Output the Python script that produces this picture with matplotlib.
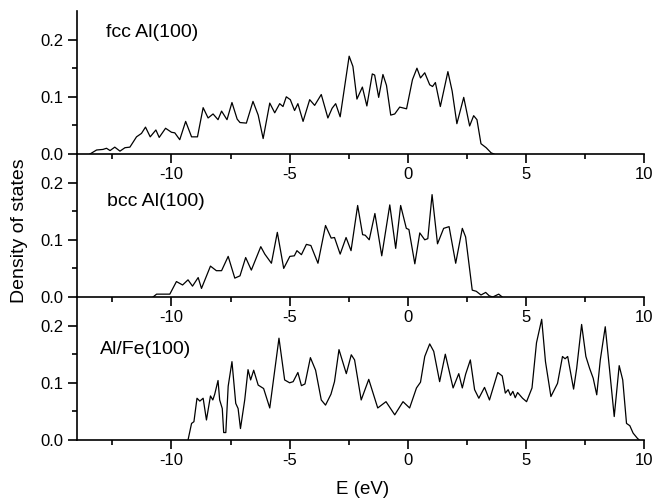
import matplotlib
matplotlib.use("Agg")
import matplotlib.pyplot as plt
from matplotlib.ticker import FixedLocator, FormatStrFormatter

plt.rcParams['font.family'] = ['Liberation Sans', 'DejaVu Sans']
plt.rcParams['axes.unicode_minus'] = False

# ---- data ----
e_fcc = [-13.45, -13.17, -12.9, -12.75, -12.6, -12.4, -12.18, -11.97, -11.76, -11.48,
         -11.27, -11.10, -10.90, -10.66, -10.52, -10.25, -10.00, -9.86, -9.65, -9.40,
         -9.15, -8.90, -8.66, -8.45, -8.24, -8.03, -7.88, -7.65, -7.44, -7.22,
         -7.10, -6.83, -6.55, -6.33, -6.12, -5.84, -5.63, -5.42, -5.28, -5.14,
         -4.97, -4.79, -4.65, -4.43, -4.15, -3.94, -3.66, -3.38, -3.20, -3.05,
         -2.86, -2.48, -2.32, -2.15, -1.92, -1.73, -1.50, -1.40, -1.23, -1.05,
         -0.90, -0.72, -0.55, -0.34, -0.05, 0.20, 0.39, 0.54, 0.72, 0.93,
         1.05, 1.17, 1.38, 1.70, 1.88, 2.08, 2.37, 2.62, 2.79, 2.93,
         3.10, 3.32, 3.53, 3.65]
dos_fcc = [0.0, 0.007, 0.008, 0.010, 0.006, 0.012, 0.005, 0.011, 0.012, 0.030,
           0.036, 0.047, 0.030, 0.042, 0.029, 0.045, 0.038, 0.037, 0.025, 0.057,
           0.030, 0.030, 0.081, 0.063, 0.070, 0.060, 0.075, 0.060, 0.090, 0.061,
           0.055, 0.054, 0.092, 0.068, 0.027, 0.089, 0.072, 0.088, 0.083, 0.100,
           0.095, 0.076, 0.088, 0.057, 0.095, 0.085, 0.104, 0.063, 0.080, 0.088,
           0.065, 0.171, 0.153, 0.096, 0.117, 0.084, 0.140, 0.138, 0.099, 0.139,
           0.120, 0.068, 0.070, 0.082, 0.079, 0.130, 0.150, 0.133, 0.142, 0.121,
           0.118, 0.125, 0.083, 0.144, 0.110, 0.053, 0.099, 0.049, 0.067, 0.060,
           0.018, 0.011, 0.002, 0.0]

e_bcc = [-10.78, -10.63, -10.07, -9.79, -9.53, -9.30, -9.11, -8.87, -8.73, -8.35,
         -8.10, -7.88, -7.60, -7.32, -7.10, -6.86, -6.62, -6.22, -6.05, -5.77,
         -5.52, -5.25, -4.99, -4.80, -4.69, -4.50, -4.29, -4.10, -3.80, -3.48,
         -3.24, -3.10, -2.86, -2.61, -2.40, -2.12, -1.91, -1.80, -1.63, -1.39,
         -1.10, -0.76, -0.51, -0.30, -0.06, 0.05, 0.30, 0.51, 0.72, 0.85,
         1.03, 1.26, 1.52, 1.75, 2.03, 2.31, 2.45, 2.73, 2.90, 3.10,
         3.30, 3.45, 3.60, 3.75, 3.85, 4.00]
dos_bcc = [0.0, 0.005, 0.005, 0.027, 0.021, 0.030, 0.019, 0.034, 0.015, 0.054,
           0.046, 0.046, 0.071, 0.033, 0.037, 0.069, 0.047, 0.088, 0.075, 0.059,
           0.113, 0.050, 0.071, 0.072, 0.081, 0.074, 0.092, 0.090, 0.059, 0.125,
           0.103, 0.104, 0.075, 0.104, 0.081, 0.160, 0.109, 0.108, 0.100, 0.146,
           0.072, 0.161, 0.085, 0.160, 0.120, 0.118, 0.058, 0.112, 0.100, 0.102,
           0.179, 0.093, 0.120, 0.123, 0.059, 0.120, 0.105, 0.012, 0.010, 0.0035,
           0.008, 0.002, 0.0, 0.003, 0.005, 0.0]

e_alfe = [-9.30, -9.15, -9.05, -8.92, -8.80, -8.66, -8.52, -8.35, -8.25, -8.17,
          -8.03, -7.96, -7.85, -7.79, -7.70, -7.60, -7.44, -7.28, -7.18, -7.08,
          -6.90, -6.76, -6.65, -6.52, -6.33, -6.10, -5.84, -5.45, -5.21, -5.00,
          -4.85, -4.65, -4.50, -4.35, -4.12, -3.90, -3.66, -3.48, -3.25, -3.10,
          -2.91, -2.60, -2.39, -2.25, -1.97, -1.65, -1.27, -0.92, -0.55, -0.20,
          0.08, 0.37, 0.54, 0.72, 0.93, 1.10, 1.35, 1.59, 1.92, 2.16,
          2.31, 2.45, 2.65, 2.83, 3.01, 3.25, 3.46, 3.81, 4.00, 4.13,
          4.25, 4.35, 4.45, 4.55, 4.65, 4.86, 5.03, 5.26, 5.45, 5.67,
          5.83, 6.06, 6.34, 6.55, 6.66, 6.77, 7.02, 7.15, 7.36, 7.54,
          7.70, 7.85, 8.00, 8.15, 8.36, 8.55, 8.74, 8.95, 9.10, 9.26,
          9.40, 9.54, 9.72, 9.80]
dos_alfe = [0.0, 0.029, 0.032, 0.073, 0.068, 0.073, 0.035, 0.077, 0.070, 0.080,
            0.104, 0.070, 0.055, 0.013, 0.013, 0.094, 0.137, 0.064, 0.055, 0.020,
            0.070, 0.123, 0.105, 0.122, 0.096, 0.090, 0.056, 0.178, 0.105, 0.100,
            0.102, 0.118, 0.095, 0.098, 0.144, 0.122, 0.070, 0.061, 0.080, 0.102,
            0.158, 0.116, 0.149, 0.140, 0.070, 0.106, 0.056, 0.067, 0.044, 0.067,
            0.056, 0.091, 0.101, 0.146, 0.168, 0.155, 0.102, 0.150, 0.091, 0.116,
            0.091, 0.115, 0.140, 0.088, 0.073, 0.092, 0.070, 0.118, 0.112, 0.082,
            0.088, 0.078, 0.085, 0.074, 0.083, 0.073, 0.067, 0.091, 0.170, 0.211,
            0.137, 0.076, 0.099, 0.146, 0.142, 0.146, 0.089, 0.125, 0.202, 0.146,
            0.125, 0.108, 0.079, 0.140, 0.198, 0.120, 0.041, 0.130, 0.105, 0.029,
            0.025, 0.012, 0.003, 0.0]

panel_labels = ["fcc Al(100)", "bcc Al(100)", "Al/Fe(100)"]
label_x = [-12.77, -12.73, -13.03]
label_y = [0.212, 0.167, 0.158]
x_major = [-10, -5, 0, 5, 10]
x_minor = [-12.5, -7.5, -2.5, 2.5, 7.5]
y_major = [0.0, 0.1, 0.2]
y_minor = [0.05, 0.15]

series = [(e_fcc, dos_fcc), (e_bcc, dos_bcc), (e_alfe, dos_alfe)]

fig = plt.figure(figsize=(6.54, 5.0), dpi=100)
left, width, height = 0.1177, 0.867, 0.286
bottoms = [0.692, 0.406, 0.12]

for (ex, dy), lab, lx, ly, b in zip(series, panel_labels, label_x, label_y, bottoms):
    ax = fig.add_axes([left, b, width, height])
    ax.patch.set_alpha(0)
    ax.plot(ex, dy, color='black', lw=0.9, solid_joinstyle='round')
    ax.set_xlim(-14, 10)
    ax.set_ylim(0, 0.25)
    for s in ['top', 'right']:
        ax.spines[s].set_visible(False)
    for s in ['left', 'bottom']:
        ax.spines[s].set_linewidth(1.2)
    ax.xaxis.set_major_locator(FixedLocator(x_major))
    ax.xaxis.set_minor_locator(FixedLocator(x_minor))
    ax.yaxis.set_major_locator(FixedLocator(y_major))
    ax.yaxis.set_minor_locator(FixedLocator(y_minor))
    ax.yaxis.set_major_formatter(FormatStrFormatter('%.1f'))
    ax.tick_params(which='major', direction='out', length=6.5, width=1.2,
                   labelsize=12, pad=3)
    ax.tick_params(which='minor', direction='out', length=3.5, width=1.2)
    ax.text(lx, ly, lab, fontsize=14, va='center', ha='left')

fig.text(0.03, 0.538, "Density of states", rotation=90, fontsize=14,
         ha='center', va='center')
fig.text(0.555, 0.022, "E (eV)", fontsize=13.5, ha='center', va='center')

fig.savefig("out.png", dpi=100)
